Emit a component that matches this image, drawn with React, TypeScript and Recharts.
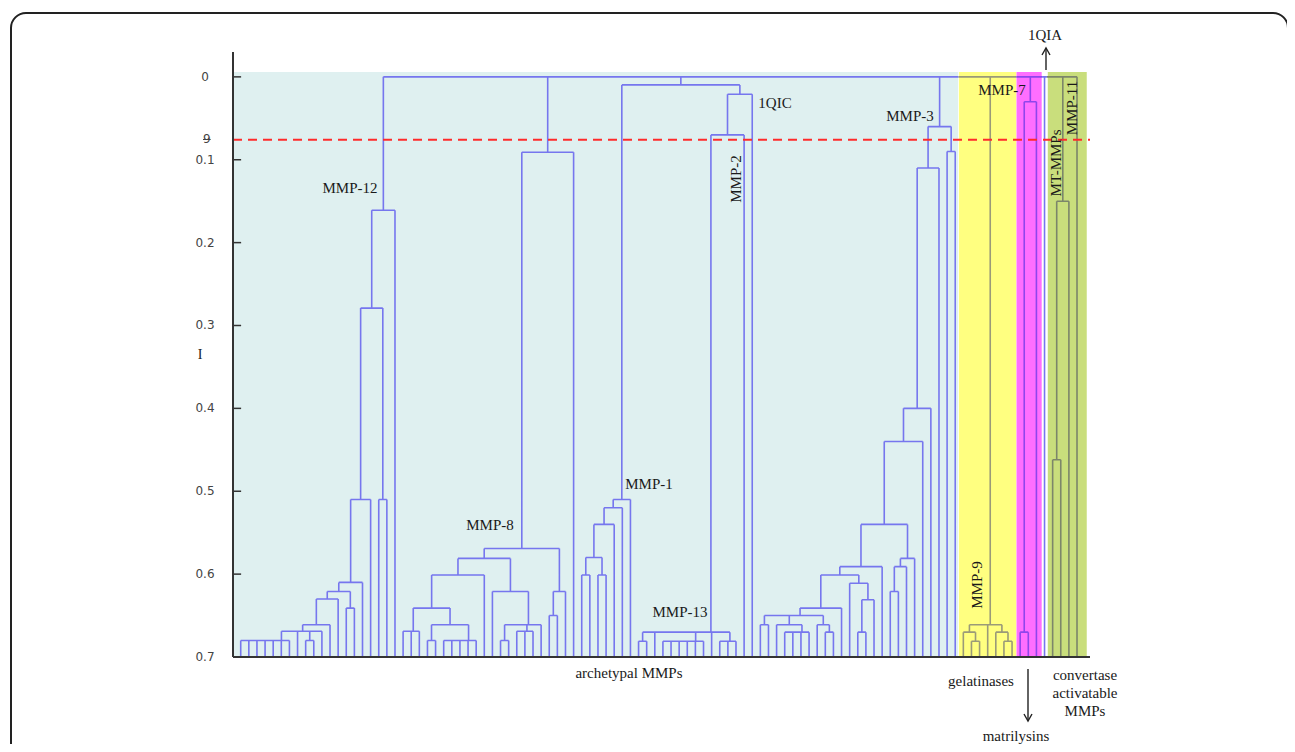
import { FC, ReactNode } from "react";
import { LineChart, Line, XAxis, YAxis, ReferenceArea, ReferenceLine } from "recharts";

// leaf = its position along the leaf axis, inner node = [merge level, ...children]
type Tree = number | Tree[];

const leafLevel = 0.7;

const mmp12Branch: Tree = [0.161,
  [0.279,
    [0.51,
      [0.61,
        [0.621,
          [0.63,
            [0.661,
              [0.669, [0.669, [0.68, 0, 1, 2, 3, 4, 5, 6], 7], [0.669, [0.68, 8, 9], 10]],
              11],
            12],
          [0.641, 13, 14]],
        15],
      16],
    [0.51, 17, 18]],
  19];

const mmp8Branch: Tree = [0.091,
  [0.569,
    [0.581,
      [0.601,
        [0.641, [0.669, 20, 21, 22], [0.661, [0.68, 23, 24], [0.68, 25, 26, 27, 28, 29]]],
        30],
      [0.621, 31, [0.661, [0.68, 32, 33], [0.669, 34, 35, 36], 37]]],
    [0.621, [0.65, 38, 39], 40]],
  41];

const mmp1Branch: Tree = [0.51, [0.52, [0.54, [0.58, [0.601, 42, 43], [0.601, 44, 45]], 46], 47], 48];
const mmp13Branch: Tree = [0.67, [0.681, 49, 50], 51, [0.681, 52, 53, 54, 55, 56, 57], 58, [0.681, 59, 60, 61]];
const mmp2Branch: Tree = [0.021, [0.07, mmp13Branch, 62], 63];
const middleBranch: Tree = [0.0097, mmp1Branch, mmp2Branch];

const mmp3Branch: Tree = [0.06,
  [0.11,
    [0.4,
      [0.44,
        [0.54,
          [0.591,
            [0.601,
              [0.641,
                [0.65, [0.661, 64, 65], [0.661, 66, [0.67, 67, 68, 69, 70]], [0.661, 71, [0.67, 72, 73]]],
                74],
              [0.611, 75, [0.631, [0.67, 76, 77], 78]]],
            79],
          [0.581, [0.591, [0.621, 80, 81], 82], 83]],
        84],
      85],
    86],
  [0.09, 87, 88]];

const gelatinaseBranch: Tree = [0.661, [0.67, 89, [0.681, 90, 91]], 92, [0.67, 93, [0.681, 94, 95]]];
const matrilysinBranch: Tree = [0.03, [0.67, 96, 97], 98];
const qiaLeaf: Tree = 99;
const convertaseBranch: Tree = [0, [0.15, [0.462, 100, 101], 102], 103];

const rootBranch: Tree = [0, mmp12Branch, mmp8Branch, middleBranch, mmp3Branch,
  gelatinaseBranch, matrilysinBranch, qiaLeaf, convertaseBranch];

const yTicks = [0, 0.1, 0.2, 0.3, 0.4, 0.5, 0.6, 0.7];
const cutLevel = 0.076;

// family bands on the leaf axis
const bandStarts = [-0.95, 88.45, 95.55, 99.4];
const bandEnds = [88.35, 95.52, 98.65, 104.2];
const bandFills = ["#dff0f0", "#ffff80", "#ff6eff", "#c9de7c"];

const BLUE = "#7676ee";
const lineCuts = [88.4, 95.53, 98.7, 99.3];
const lineColors = [BLUE, "#9a9a78", "#8f45ec", BLUE, "#7c866a"];
const colorAt = (x: number) => {
  let i = 0;
  while (i < lineCuts.length && x >= lineCuts[i]) i++;
  return lineColors[i];
};

type Seg = { x1: number; y1: number; x2: number; y2: number };
const segs: Seg[] = [];

function place(t: Tree): { x: number; h: number } {
  if (typeof t === "number") return { x: t, h: leafLevel };
  const [h, ...kids] = t as [number, ...Tree[]];
  let acc = place(kids[0]);
  for (const kid of kids.slice(1)) {
    const r = place(kid);
    if (acc.h !== h) segs.push({ x1: acc.x, y1: acc.h, x2: acc.x, y2: h });
    if (r.h !== h) segs.push({ x1: r.x, y1: r.h, x2: r.x, y2: h });
    let from = acc.x;
    for (const c of lineCuts) {
      if (c > from && c < r.x) {
        segs.push({ x1: from, y1: h, x2: c, y2: h });
        from = c;
      }
    }
    segs.push({ x1: from, y1: h, x2: r.x, y2: h });
    acc = { x: (acc.x + r.x) / 2, h };
  }
  return acc;
}
place(rootBranch);

const paths: Record<string, { x: number; y: number | null }[]> = {};
segs.forEach((s) => {
  const c = colorAt((s.x1 + s.x2) / 2);
  (paths[c] ||= []).push({ x: s.x1, y: s.y1 }, { x: s.x2, y: s.y2 }, { x: s.x2, y: null });
});

const LevelTick = (props: any) => {
  const { x, y, payload } = props;
  return (
    <text x={x - 28} y={y} textAnchor="middle" dominantBaseline="central"
      fontFamily="DejaVu Sans" fontSize={12} fill="#444">
      {payload.value}
    </text>
  );
};

const Note: FC<{ x: number; y: number; rot?: boolean; size?: number; children: ReactNode }> = ({ x, y, rot, size, children }) => (
  <div
    style={{
      position: "absolute",
      left: x - 8,
      top: y - 8,
      transform: `translate(-50%,-50%)${rot ? " rotate(-90deg)" : ""}`,
      fontFamily: '"Liberation Serif", serif',
      fontSize: size ?? 15,
      color: "#1a1a1a",
      whiteSpace: "nowrap",
      lineHeight: "18px",
      textAlign: "center",
    }}
  >
    {children}
  </div>
);

const App: FC = () => {
  return (
    <div style={{ position: "relative", width: 1285, height: 744, marginBottom: -8, overflow: "hidden" }}>
      <div style={{ position: "absolute", left: 2, top: 4, width: 1279, height: 900, border: "2px solid #222", borderRadius: 16, boxSizing: "border-box" }} />
      <div style={{ position: "absolute", left: 0, top: 0 }}>
        <LineChart width={1285} height={736} margin={{ top: 44, right: 203, bottom: 77, left: 165 }}>
          <XAxis type="number" dataKey="x" domain={[-0.95, 104.6]} allowDataOverflow
            height={10} tick={false} tickLine={false} axisLine={{ stroke: "#333", strokeWidth: 2 }} />
          <YAxis type="number" domain={[-0.03, 0.7]} reversed allowDataOverflow ticks={yTicks}
            width={60} tickSize={0} tickMargin={0} tickLine={false} tick={<LevelTick />}
            axisLine={{ stroke: "#333", strokeWidth: 2 }} />
          {bandStarts.map((x1, i) => (
            <ReferenceArea key={i} x1={x1} x2={bandEnds[i]} y1={-0.006} y2={0.7}
              fill={bandFills[i]} fillOpacity={1} stroke="none" />
          ))}
          {yTicks.map((t) => (
            <ReferenceLine key={t} segment={[{ x: -0.95, y: t }, { x: 0.05, y: t }]} stroke="#333" strokeWidth={1.5} />
          ))}
          {Object.entries(paths).map(([color, pts]) => (
            <Line key={color} data={pts} dataKey="y" type="linear" stroke={color} strokeWidth={1.6}
              dot={false} activeDot={false} connectNulls={false} isAnimationActive={false} />
          ))}
          <ReferenceLine y={cutLevel} stroke="#ff2b2b" strokeWidth={2} strokeDasharray="9 6" />
        </LineChart>
      </div>
      <svg style={{ position: "absolute", left: 0, top: 0 }} width={1285} height={744}>
        <g stroke="#222" strokeWidth={1.4} fill="none">
          <line x1={1038} y1={62} x2={1038} y2={40} />
          <polyline points="1034,47 1038,40 1042,47" />
          <line x1={1020} y1={661} x2={1020} y2={713} />
          <polyline points="1016,706 1020,713 1024,706" />
        </g>
      </svg>
      <Note x={350} y={188}>MMP-12</Note>
      <Note x={490} y={525}>MMP-8</Note>
      <Note x={649} y={484}>MMP-1</Note>
      <Note x={680} y={612}>MMP-13</Note>
      <Note x={736} y={179} rot>MMP-2</Note>
      <Note x={775} y={103}>1QIC</Note>
      <Note x={910} y={116}>MMP-3</Note>
      <Note x={1002} y={90}>MMP-7</Note>
      <Note x={977} y={585} rot>MMP-9</Note>
      <Note x={1056} y={163} rot>MT-MMPs</Note>
      <Note x={1072} y={108} rot>MMP-11</Note>
      <Note x={1045} y={35}>1QIA</Note>
      <Note x={629} y={673}>archetypal MMPs</Note>
      <Note x={981} y={681}>gelatinases</Note>
      <Note x={1016} y={736}>matrilysins</Note>
      <Note x={1085} y={693}>convertase<br />activatable<br />MMPs</Note>
      <Note x={200} y={355} size={14}>I</Note>
      <div style={{ position: "absolute", left: 195, top: 124, fontFamily: "DejaVu Sans", fontSize: 12, color: "#444", textDecoration: "line-through" }}>9</div>
    </div>
  );
};

export default App;
